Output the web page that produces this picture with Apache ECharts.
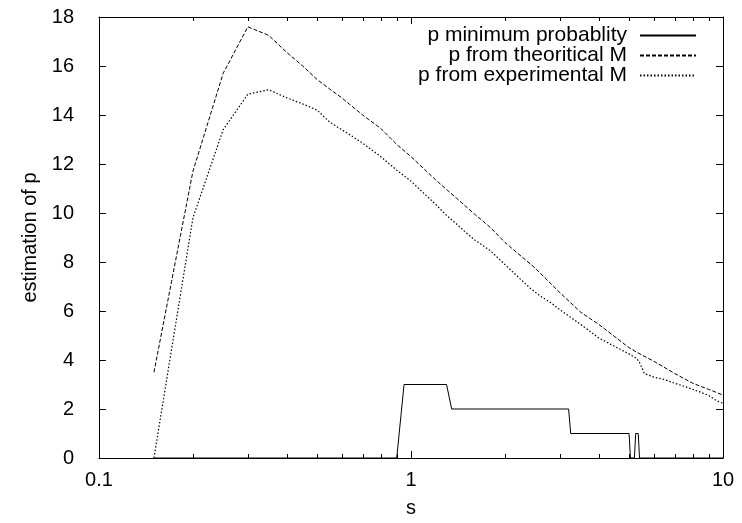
<!DOCTYPE html>
<html>
<head>
<meta charset="utf-8">
<title>estimation of p</title>
<script src="https://cdn.jsdelivr.net/npm/echarts@6/dist/echarts.min.js"></script>
<style>
  html, body { margin: 0; padding: 0; background: #ffffff; }
  #chart { width: 742px; height: 523px; }
</style>
</head>
<body>
<div id="chart"></div>
<script>
// Estimated p against s, three estimators
const seriesNames = ['p minimum probablity', 'p from theoritical M', 'p from experimental M'];

// p from theoritical M
const sTheo = [0.15, 0.2, 0.25, 0.3, 0.35, 0.4, 0.45, 0.5, 0.55, 0.6, 0.7, 0.8, 0.9, 1.0,
               1.2, 1.4, 1.6, 1.8, 2.0, 2.5, 3.0, 3.5, 4.0, 4.5, 5.0, 5.5, 6.0, 7.0, 8.0, 9.0, 10.0];
const pTheo = [3.5, 11.7, 15.7, 17.6, 17.25, 16.55, 16.0, 15.45, 15.05, 14.7, 14.0, 13.45, 12.8, 12.3,
               11.35, 10.6, 9.95, 9.4, 8.8, 7.75, 6.75, 5.95, 5.45, 4.95, 4.5, 4.2, 3.95, 3.45, 3.05, 2.8, 2.57];

// p from experimental M
const sExp = [0.15, 0.2, 0.25, 0.3, 0.35, 0.4, 0.45, 0.5, 0.55, 0.6, 0.65, 0.7, 0.8, 0.9, 1.0,
              1.1, 1.2, 1.3, 1.4, 1.5, 1.6, 1.8, 2.0, 2.2, 2.4, 2.6, 2.8, 3.0, 3.2, 3.5, 4.0,
              4.5, 5.0, 5.3, 5.4, 5.6, 6.0, 6.5, 7.0, 7.5, 8.0, 8.5, 9.0, 9.5, 10.0];
const pExp = [0.0, 9.8, 13.4, 14.85, 15.03, 14.7, 14.45, 14.2, 13.7, 13.4, 13.12, 12.85, 12.3, 11.75, 11.3,
              10.8, 10.35, 9.9, 9.55, 9.2, 8.9, 8.45, 7.9, 7.4, 6.95, 6.6, 6.35, 6.05, 5.8, 5.45, 4.9,
              4.55, 4.25, 4.05, 3.9, 3.45, 3.3, 3.2, 3.05, 2.93, 2.8, 2.68, 2.55, 2.35, 2.23];

// p minimum probablity (integer steps)
const sMin = [0.15, 0.9, 0.95, 1.3, 1.35, 3.2, 3.25, 5.0, 5.05, 5.2, 5.25, 5.35, 5.4, 10.0];
const pMin = [0, 0, 3, 3, 2, 2, 1, 1, 0, 0, 1, 1, 0, 0];

// axis ranges and tick positions
const xRange = [0.1, 10];
const yRange = [0, 18];
const yStep = 2;
const xMinorTicks = [0.2, 0.3, 0.4, 0.5, 0.6, 0.7, 0.8, 0.9, 2, 3, 4, 5, 6, 7, 8, 9];

const FONT = "'Liberation Sans', Arial, Helvetica, sans-serif";
const FS = 20;
const KEY_FS = 21;
const INK = '#000000';

const pairs = (xs, ys) => xs.map((x, i) => [x, ys[i]]);

const lineSeries = (name, xs, ys, dash, width) => ({
  name: name,
  type: 'line',
  data: pairs(xs, ys),
  symbol: 'none',
  showSymbol: false,
  clip: true,
  lineStyle: { color: INK, width: width, type: dash },
  itemStyle: { color: INK },
  emphasis: { disabled: true },
  z: 3
});

const chart = echarts.init(document.getElementById('chart'), null, { renderer: 'canvas' });

const xAxisBase = {
  type: 'log',
  logBase: 10,
  min: xRange[0],
  max: xRange[1],
  splitLine: { show: false },
  axisLine: { show: true, onZero: false, lineStyle: { color: INK, width: 1 } },
  axisTick: { show: true, inside: true, length: 7, lineStyle: { color: INK, width: 1 } },
  minorTick: { show: false }
};
const yAxisBase = {
  type: 'value',
  min: yRange[0],
  max: yRange[1],
  interval: yStep,
  splitLine: { show: false },
  axisLine: { show: true, onZero: false, lineStyle: { color: INK, width: 1 } },
  axisTick: { show: true, inside: true, length: 7, lineStyle: { color: INK, width: 1 } }
};

// one key row per series, right-aligned with the sample line after the text
const legendRow = (name, i) => ({
  data: [name],
  orient: 'vertical',
  align: 'right',
  right: 45,
  top: 25 + i * 20,
  padding: 0,
  itemGap: 0,
  itemWidth: 56,
  itemHeight: 14,
  selectedMode: false,
  itemStyle: { opacity: 0, borderWidth: 0 },
  textStyle: { fontFamily: FONT, fontSize: KEY_FS, color: INK, padding: [0, 8, 0, 0] }
});

chart.setOption({
  animation: false,
  backgroundColor: '#ffffff',
  textStyle: { fontFamily: FONT },
  grid: { left: 99, right: 19, top: 17, bottom: 65, containLabel: false },
  legend: seriesNames.map(legendRow),
  xAxis: [
    Object.assign({}, xAxisBase, {
      position: 'bottom',
      name: 's',
      nameLocation: 'middle',
      nameGap: 40,
      nameTextStyle: { fontFamily: FONT, fontSize: FS, color: INK },
      axisLabel: { show: true, margin: 12, fontFamily: FONT, fontSize: FS, color: INK,
                   formatter: v => String(v) }
    }),
    Object.assign({}, xAxisBase, {
      position: 'top',
      axisLabel: { show: false }
    })
  ],
  yAxis: [
    Object.assign({}, yAxisBase, {
      position: 'left',
      name: 'estimation of p',
      nameLocation: 'middle',
      nameGap: 58,
      nameRotate: 90,
      nameTextStyle: { fontFamily: FONT, fontSize: FS, color: INK },
      axisLabel: { show: true, margin: 25, fontFamily: FONT, fontSize: FS, color: INK }
    }),
    Object.assign({}, yAxisBase, {
      position: 'right',
      axisLabel: { show: false }
    })
  ],
  series: [
    lineSeries(seriesNames[0], sMin, pMin, 'solid', 1),
    lineSeries(seriesNames[1], sTheo, pTheo, [4, 2], 1),
    lineSeries(seriesNames[2], sExp, pExp, [1.5, 2], 1.2),
    {
      // log-scale minor ticks on the bottom and top borders
      type: 'custom',
      silent: true,
      clip: false,
      z: 4,
      data: xMinorTicks.map(v => [v, 0]),
      renderItem: (params, api) => {
        const x = Math.round(api.coord([api.value(0), 0])[0]) + 0.5;
        const cs = params.coordSys;
        const yb = cs.y + cs.height;
        const yt = cs.y;
        return {
          type: 'group',
          children: [
            { type: 'line', shape: { x1: x, y1: yb, x2: x, y2: yb - 4 }, style: { stroke: INK, lineWidth: 1 } },
            { type: 'line', shape: { x1: x, y1: yt, x2: x, y2: yt + 4 }, style: { stroke: INK, lineWidth: 1 } }
          ]
        };
      }
    }
  ]
});
</script>
</body>
</html>
